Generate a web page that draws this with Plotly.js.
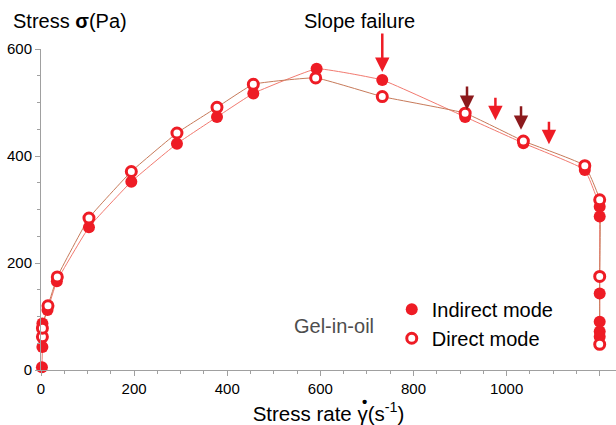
<!DOCTYPE html>
<html>
<head>
<meta charset="utf-8">
<script src="https://cdn.plot.ly/plotly-3.0.1.min.js"></script>
<style>
  html, body { margin: 0; padding: 0; background: #fff; }
  #chart { width: 616px; height: 425px; }
</style>
</head>
<body>
<div id="chart"></div>
<script>
// Stress vs. stress rate for a gel-in-oil, two loading modes
const rateIndirect   = [2, 3, 3, 14, 34, 103, 194, 292, 378, 456, 592, 733, 911, 1036, 1168, 1200, 1200, 1200, 1200, 1200, 1200];
const stressIndirect = [5, 43, 87, 112, 166, 267, 352, 423, 473, 517, 563, 542, 473, 424, 374, 305, 287, 143, 90, 72, 62];

const rateDirect   = [3, 3, 15, 35, 103, 194, 292, 378, 456, 590, 733, 911, 1036, 1168, 1200, 1200, 1200];
const stressDirect = [62, 78, 120, 174, 284, 371, 443, 491, 534, 546, 511, 480, 428, 382, 318, 175, 48];

// Arrows marking failure events: [rate, stress at arrow tip]
const failureArrow = [733, 557];
const darkArrows   = [[915, 486], [1031, 449]];
const lightArrows  = [[976, 467], [1091, 422]];

const xTicks = [0, 200, 400, 600, 800, 1000, 1200];
const yTicks = [0, 200, 400, 600];

const RED = '#ee1c25';
const DARK = '#8c1a1d';
const FONT = 'Liberation Sans, Arial, sans-serif';

const traces = [
  { x: rateIndirect, y: stressIndirect, mode: 'lines', showlegend: false, hoverinfo: 'skip',
    line: { color: '#f27a70', width: 1, shape: 'spline', smoothing: 0.3 }, cliponaxis: false },
  { x: rateDirect, y: stressDirect, mode: 'lines', showlegend: false, hoverinfo: 'skip',
    line: { color: '#c77a5a', width: 1, shape: 'spline', smoothing: 0.3 }, cliponaxis: false },
  { x: rateIndirect, y: stressIndirect, mode: 'markers', name: 'Indirect mode', cliponaxis: false,
    marker: { symbol: 'circle', size: 12, color: RED, line: { width: 0 } } },
  { x: rateDirect, y: stressDirect, mode: 'markers', name: 'Direct mode', cliponaxis: false,
    marker: { symbol: 'circle', size: 10, color: '#ffffff', line: { color: RED, width: 3 } } }
];

function arrow(pt, color, len) {
  return { x: pt[0], y: pt[1], xref: 'x', yref: 'y', text: '', showarrow: true,
           ax: 0, ay: -len, arrowcolor: color, arrowwidth: 2.5, arrowhead: 2, arrowsize: 1.15 };
}

const annotations = [
  { xref: 'paper', yref: 'paper', x: 0, y: 1, xshift: -30, yshift: 28, xanchor: 'left', yanchor: 'middle',
    text: 'Stress <b>σ</b>(Pa)', showarrow: false, font: { family: FONT, size: 20, color: '#000' } },
  { xref: 'x', yref: 'paper', x: 684, y: 1, yshift: 28, xanchor: 'center', yanchor: 'middle',
    text: 'Slope failure', showarrow: false, font: { family: FONT, size: 20, color: '#000' } },
  { xref: 'x', yref: 'y', x: 630, y: 83, xanchor: 'center', yanchor: 'middle',
    text: 'Gel-in-oil', showarrow: false, font: { family: FONT, size: 20, color: '#4d4d4d' } },
  // dot over the gamma in the x-axis title (rate notation)
  { xref: 'paper', yref: 'paper', x: 0.5, y: 0, xshift: 36, yshift: -31, xanchor: 'center', yanchor: 'middle',
    text: '<b>•</b>', showarrow: false, font: { family: FONT, size: 15, color: '#000' } },
  arrow(failureArrow, RED, 40)
].concat(darkArrows.map(p => arrow(p, DARK, 25)), lightArrows.map(p => arrow(p, RED, 24)));

const axisCommon = {
  showline: true, linecolor: '#a0a0a0', linewidth: 1,
  ticks: 'outside', ticklen: 5, tickcolor: '#a0a0a0', tickwidth: 1,
  showgrid: false, zeroline: false,
  tickfont: { family: FONT, size: 15, color: '#000' },
  minor: { dtick: 50, ticks: 'outside', ticklen: 3, tickcolor: '#a0a0a0', showgrid: false }
};

const layout = {
  width: 616, height: 425,
  margin: { l: 41, r: 0, t: 49, b: 55 },
  paper_bgcolor: '#fff', plot_bgcolor: '#fff',
  font: { family: FONT, color: '#000' },
  xaxis: Object.assign({}, axisCommon, {
    range: [0, 1235], tickvals: xTicks,
    title: { text: 'Stress rate γ(s<sup>-1</sup>)', font: { family: FONT, size: 20.5, color: '#000' }, standoff: 11 }
  }),
  yaxis: Object.assign({}, axisCommon, { range: [0, 600], tickvals: yTicks }),
  legend: {
    x: 0.61, y: 0.25, xanchor: 'left', yanchor: 'top',
    bgcolor: 'rgba(0,0,0,0)', itemwidth: 30, tracegroupgap: 0,
    font: { family: FONT, size: 20, color: '#000' }
  },
  annotations: annotations,
  showlegend: true
};

Plotly.newPlot('chart', traces, layout, { displayModeBar: false, staticPlot: true });
</script>
</body>
</html>
